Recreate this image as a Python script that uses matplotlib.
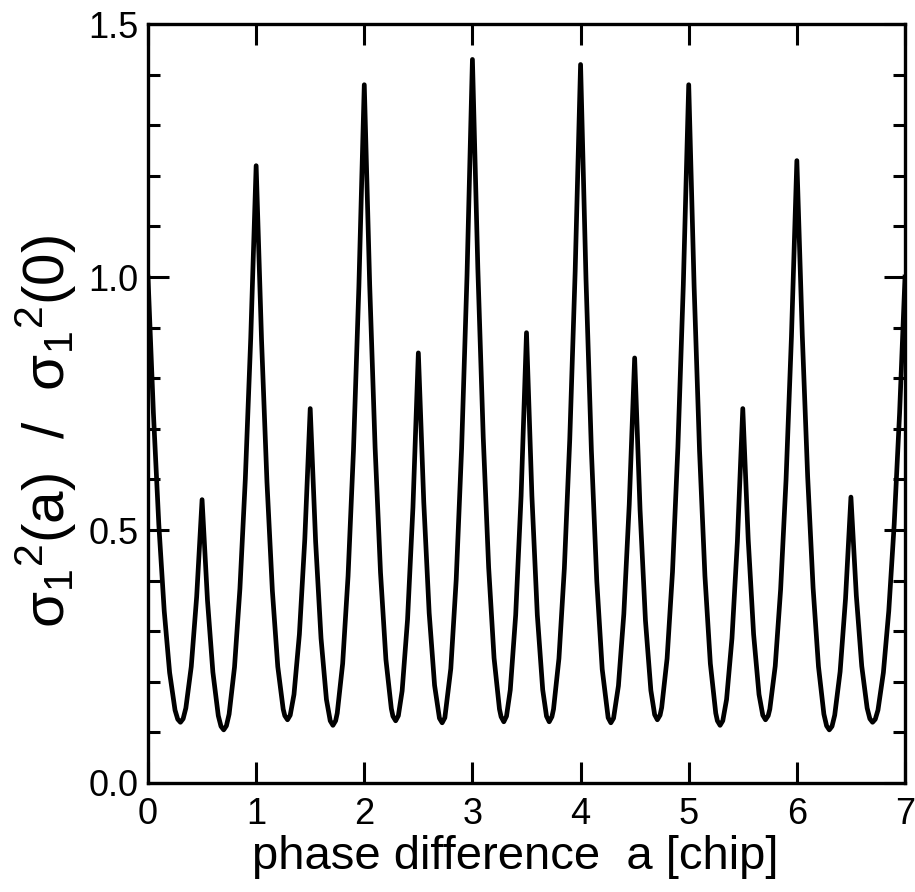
import matplotlib
matplotlib.use('Agg')
import matplotlib.pyplot as plt
from matplotlib.ticker import MultipleLocator
from matplotlib import font_manager

# ---- data ----
phase_a = [
    0.00, 0.05, 0.10, 0.15, 0.20, 0.25, 0.275, 0.30, 0.325, 0.35, 0.40, 0.45,
    0.50, 0.55, 0.60, 0.65, 0.675, 0.70, 0.725, 0.75, 0.80, 0.85, 0.90, 0.95,
    1.00, 1.05, 1.10, 1.15, 1.20, 1.25, 1.265, 1.29, 1.315, 1.35, 1.40, 1.45,
    1.50, 1.55, 1.60, 1.65, 1.685, 1.71, 1.735, 1.75, 1.80, 1.85, 1.90, 1.95,
    2.00, 2.05, 2.10, 2.15, 2.20, 2.25, 2.265, 2.29, 2.315, 2.35, 2.40, 2.45,
    2.50, 2.55, 2.60, 2.65, 2.695, 2.72, 2.745, 2.80, 2.85, 2.90, 2.95,
    3.00, 3.05, 3.10, 3.15, 3.20, 3.25, 3.265, 3.29, 3.315, 3.35, 3.40, 3.45,
    3.50, 3.55, 3.60, 3.65, 3.685, 3.71, 3.735, 3.75, 3.80, 3.85, 3.90, 3.95,
    4.00, 4.05, 4.10, 4.15, 4.20, 4.255, 4.28, 4.305, 4.35, 4.40, 4.45,
    4.50, 4.55, 4.60, 4.65, 4.685, 4.71, 4.735, 4.75, 4.80, 4.85, 4.90, 4.95,
    5.00, 5.05, 5.10, 5.15, 5.20, 5.25, 5.265, 5.29, 5.315, 5.35, 5.40, 5.45,
    5.50, 5.55, 5.60, 5.65, 5.685, 5.71, 5.735, 5.75, 5.80, 5.85, 5.90, 5.95,
    6.00, 6.05, 6.10, 6.15, 6.20, 6.25, 6.275, 6.30, 6.325, 6.35, 6.40, 6.45,
    6.50, 6.55, 6.60, 6.65, 6.675, 6.70, 6.725, 6.75, 6.80, 6.85, 6.90, 6.95,
    7.00,
]
sigma_ratio = [
    1.000, 0.731, 0.511, 0.340, 0.218, 0.144, 0.126, 0.120, 0.127, 0.148, 0.230, 0.368,
    0.560, 0.361, 0.219, 0.133, 0.112, 0.105, 0.113, 0.136, 0.229, 0.384, 0.601, 0.879,
    1.220, 0.875, 0.595, 0.380, 0.230, 0.146, 0.133, 0.125, 0.134, 0.175, 0.294, 0.482,
    0.740, 0.477, 0.286, 0.165, 0.123, 0.114, 0.123, 0.138, 0.236, 0.409, 0.657, 0.981,
    1.380, 0.984, 0.663, 0.416, 0.244, 0.147, 0.132, 0.123, 0.133, 0.182, 0.323, 0.545,
    0.850, 0.555, 0.336, 0.193, 0.128, 0.119, 0.129, 0.226, 0.402, 0.661, 1.003,
    1.430, 1.017, 0.683, 0.426, 0.247, 0.146, 0.131, 0.121, 0.132, 0.184, 0.332, 0.567,
    0.890, 0.567, 0.332, 0.184, 0.132, 0.121, 0.131, 0.146, 0.246, 0.424, 0.679, 1.011,
    1.420, 0.997, 0.657, 0.399, 0.225, 0.129, 0.119, 0.128, 0.192, 0.334, 0.550,
    0.840, 0.540, 0.321, 0.183, 0.135, 0.125, 0.134, 0.149, 0.246, 0.417, 0.664, 0.984,
    1.380, 0.981, 0.657, 0.409, 0.236, 0.138, 0.123, 0.114, 0.123, 0.165, 0.286, 0.477,
    0.740, 0.482, 0.294, 0.175, 0.134, 0.125, 0.133, 0.146, 0.231, 0.383, 0.599, 0.882,
    1.230, 0.886, 0.605, 0.386, 0.230, 0.136, 0.113, 0.105, 0.112, 0.134, 0.220, 0.364,
    0.565, 0.370, 0.231, 0.148, 0.127, 0.120, 0.126, 0.144, 0.218, 0.340, 0.511, 0.731,
    1.000,
]
x_ticks = [0, 1, 2, 3, 4, 5, 6, 7]
y_ticks = [0.0, 0.5, 1.0, 1.5]
y_tick_labels = ['0.0', '0.5', '1.0', '1.5']
x_label = 'phase difference  a [chip]'
y_label = r'σ$_1$$^2$(a)  /  σ$_1$$^2$(0)'

# ---- style ----
plt.rcParams['font.family'] = ['Liberation Sans', 'DejaVu Sans']
plt.rcParams['mathtext.fontset'] = 'custom'
plt.rcParams['mathtext.rm'] = 'Liberation Sans'
plt.rcParams['mathtext.it'] = 'Liberation Sans'
plt.rcParams['mathtext.bf'] = 'Liberation Sans:bold'

installed = {f.name for f in font_manager.fontManager.ttflist}
if 'Liberation Sans Narrow' in installed:
    xlab_family, xlab_size = 'Liberation Sans Narrow', 41
else:
    xlab_family, xlab_size = 'Liberation Sans', 34

fig = plt.figure(figsize=(9.15, 8.92), dpi=100)
ax = fig.add_axes([148 / 915, 109 / 892, 757 / 915, 759 / 892])

ax.plot(phase_a, sigma_ratio, color='black', lw=3.4, solid_joinstyle='round')

ax.set_xlim(0, 7)
ax.set_ylim(0, 1.5)
ax.set_xticks(x_ticks)
ax.set_yticks(y_ticks)
ax.set_yticklabels(y_tick_labels)
ax.yaxis.set_minor_locator(MultipleLocator(0.1))

for s in ax.spines.values():
    s.set_linewidth(2.4)

ax.tick_params(which='both', direction='in', top=True, right=True,
               width=2.2, colors='black')
ax.tick_params(which='major', length=15, labelsize=26)
ax.tick_params(which='minor', length=8.5)
ax.tick_params(axis='x', which='major', pad=10)
ax.tick_params(axis='y', which='major', pad=7)

ax.set_xlabel(x_label, fontsize=xlab_size, family=xlab_family)
ax.xaxis.label.set_va('center')
ax.xaxis.set_label_coords((515 - 148) / 757, (783 - 857) / 759)

fig.text(46 / 915, 1 - 431 / 892, y_label, rotation=90, ha='center',
         va='center', fontsize=42)

fig.savefig('out.png', dpi=100)
